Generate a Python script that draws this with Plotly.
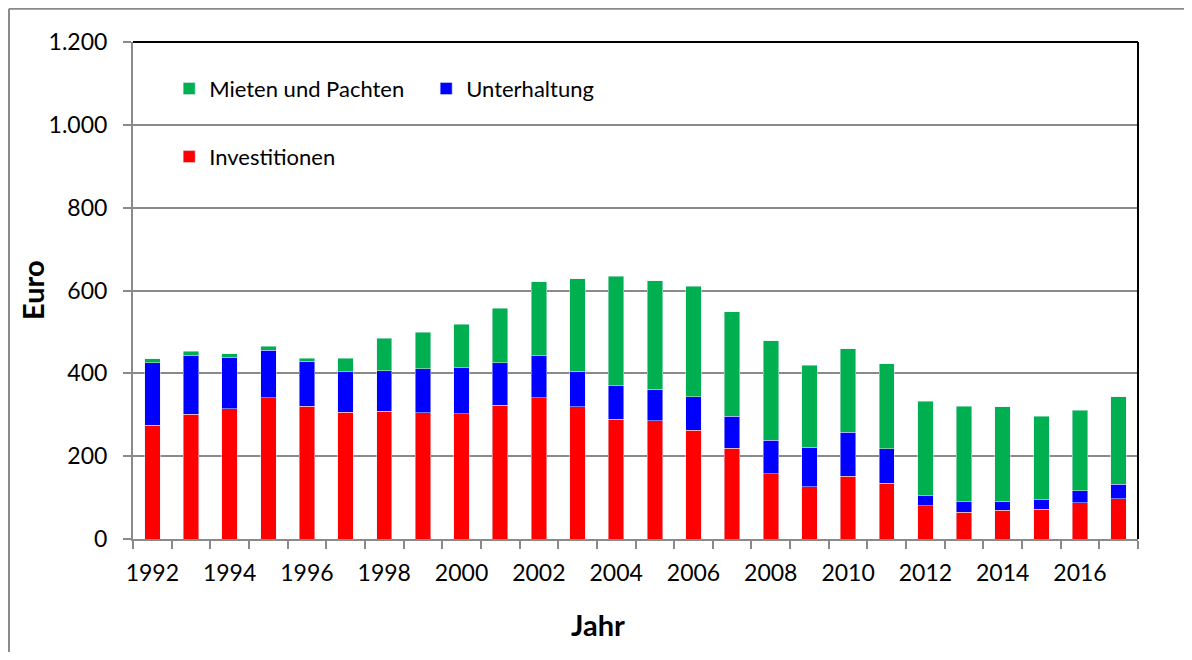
import plotly.graph_objects as go

years = list(range(1992, 2018))
investitionen = [275, 301, 314, 341, 320, 306, 308, 305, 302, 323, 341, 319, 289,
                 285, 263, 219, 158, 126, 152, 135, 80, 65, 70, 72, 87, 97]
unterhaltung = [151, 142, 124, 115, 109, 98, 98, 106, 112, 103, 102, 86, 81,
                76, 80, 77, 80, 95, 106, 83, 25, 25, 21, 23, 30, 35]
mieten = [9, 10, 9, 9, 8, 33, 79, 88, 105, 131, 178, 223, 265,
          262, 267, 253, 241, 199, 201, 205, 228, 231, 228, 201, 194, 212]

y_ticks = [0, 200, 400, 600, 800, 1000, 1200]
y_labels = ["0", "200", "400", "600", "800", "1.000", "1.200"]
x_labels = list(range(1992, 2018, 2))

FONT = "Lato, Calibri, sans-serif"
GREY = "#8a8a8a"

fig = go.Figure()
fig.add_trace(go.Bar(x=years, y=investitionen, name="Investitionen",
                     marker_color="#ff0000", width=0.4, legend="legend2"))
fig.add_trace(go.Bar(x=years, y=unterhaltung, name="Unterhaltung",
                     marker_color="#0000ff", width=0.4, legend="legend"))
fig.add_trace(go.Bar(x=years, y=mieten, name="Mieten und Pachten",
                     marker_color="#00b050", width=0.4, legend="legend"))

# the page body has an 8px margin on every side: shrink the figure so it fits without scrollbars
fig.update_layout(
    barmode="stack",
    width=1176, height=644,
    margin=dict(l=125, r=46, t=34, b=113),
    paper_bgcolor="white", plot_bgcolor="white",
    font=dict(family=FONT, size=22, color="black"),
    legend=dict(orientation="h", x=0.036, y=0.906, xanchor="left", yanchor="middle",
                traceorder="reversed", entrywidth=212, entrywidthmode="pixels",
                font=dict(size=22), bgcolor="rgba(0,0,0,0)"),
    legend2=dict(orientation="h", x=0.036, y=0.769, xanchor="left", yanchor="middle",
                 font=dict(size=22), bgcolor="rgba(0,0,0,0)"),
    xaxis=dict(range=[1991.5, 2017.5], tickvals=x_labels, ticks="",
               showgrid=False, showline=True, linecolor=GREY, linewidth=2,
               ticklabelstandoff=12, tickfont=dict(size=23),
               minor=dict(tickvals=[y + 0.5 for y in range(1991, 2018)], ticks="outside",
                          ticklen=8, tickcolor=GREY, tickwidth=2, showgrid=False)),
    yaxis=dict(range=[0, 1200], tickvals=y_ticks, ticktext=y_labels,
               ticks="outside", ticklen=8, tickcolor=GREY, tickwidth=2,
               showgrid=True, gridcolor=GREY, gridwidth=2, zeroline=False,
               showline=True, linecolor=GREY, linewidth=2,
               ticklabelstandoff=11, tickfont=dict(size=23)),
)

# plot area frame (top/right black)
fig.add_shape(type="line", xref="paper", yref="paper", x0=0, x1=1, y0=1, y1=1,
              line=dict(color="black", width=2), layer="above")
fig.add_shape(type="line", xref="paper", yref="paper", x0=1, x1=1, y0=0, y1=1,
              line=dict(color="black", width=2), layer="above")
# outer chart border, only left and top edges are in view
fig.add_shape(type="line", xref="paper", yref="paper", x0=-0.1234, x1=-0.1234, y0=-0.3, y1=1.067,
              line=dict(color=GREY, width=2), layer="below")
fig.add_shape(type="line", xref="paper", yref="paper", x0=-0.1234, x1=1.2, y0=1.067, y1=1.067,
              line=dict(color=GREY, width=2), layer="below")

fig.add_annotation(text="<b>Euro</b>", xref="paper", yref="paper", x=-0.1, y=0.5,
                   textangle=-90, showarrow=False, font=dict(size=29),
                   xanchor="center", yanchor="middle")
fig.add_annotation(text="<b>Jahr</b>", xref="paper", yref="paper", x=0.463, y=-0.173,
                   showarrow=False, font=dict(size=29), xanchor="center", yanchor="middle")

fig.write_html("out.html")
